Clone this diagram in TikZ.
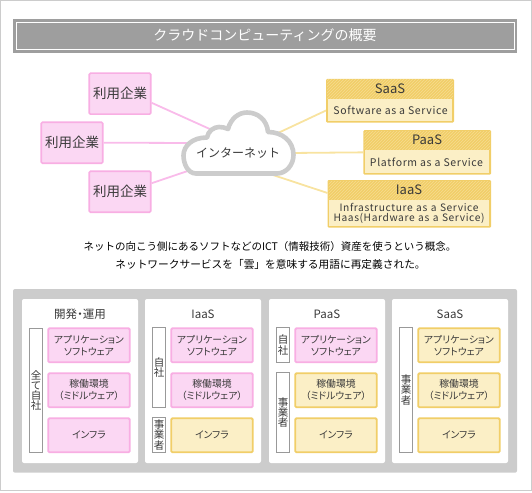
\documentclass[tikz,border=0pt]{standalone}
\usepackage{fontspec}
\usetikzlibrary{patterns}
\setmainfont{Noto Sans CJK JP}
\newfontfamily\cjkhalt[RawFeature=+halt]{Noto Sans CJK JP}
\newfontfamily\cjkprop[RawFeature=+palt]{Noto Sans CJK JP}
\newfontfamily\latinsp[LetterSpace=6]{Noto Sans CJK JP}
\newcommand{\fs}[1]{\fontsize{#1}{#1}\selectfont}
\newcommand{\fsl}[2]{\fontsize{#1}{#2}\selectfont\lineskiplimit=-100pt\relax}
\definecolor{pinkf}{HTML}{FBD7F3}
\definecolor{pinkd}{HTML}{F8AEE3}
\definecolor{pinkl}{HTML}{F9BBEA}
\definecolor{yelf}{HTML}{FBEFC6}
\definecolor{yeld}{HTML}{F1CE68}
\definecolor{yell}{HTML}{F8E3A0}
\definecolor{yelh}{HTML}{F6DC90}
\definecolor{ink}{HTML}{3A3A3A}
\definecolor{panelgray}{HTML}{CCCCCC}
\definecolor{titlegray}{HTML}{9E9E9E}
\tikzset{
  userbox/.style={draw=pinkd,fill=pinkf,line width=1.6pt,rounded corners=1.2pt,minimum width=61.5pt,minimum height=41pt,inner sep=0pt,text=ink,font=\fs{13.5}},
  pinkstack/.style={draw=pinkd,fill=pinkf,line width=1.8pt,rounded corners=1.2pt,minimum width=81.5pt,minimum height=34pt,inner sep=0pt,text=ink,font=\cjkprop\fsl{9.8}{12},align=center},
  yelstack/.style={pinkstack,draw=yeld,fill=yelf},
  bar/.style={draw=gray!80,fill=white,line width=0.9pt,minimum width=12.5pt,inner sep=0pt,text=ink,font=\fsl{10.5}{10.2},align=center},
  whitepanel/.style={fill=white,rounded corners=2pt},
  pinkline/.style={draw=pinkl,line width=1.8pt},
  yelline/.style={draw=yell,line width=1.8pt},
  cardtitle/.style={text=ink,font=\fs{13},inner sep=0pt},
  cardtext/.style={text=ink,font=\latinsp\fs{10.5},inner sep=0pt,align=center},
  paneltitle/.style={text=ink,font=\fs{11.5},inner sep=0pt},
}
\newcommand{\card}[6]{%
  \fill[yeld,rounded corners=1.2pt] (#2,#3) rectangle (#4,#5);
  \fill[pattern=north east lines,pattern color=yelh] (#2+1,#3+1) rectangle (#4-1,#6);
  \fill[yelf] (#2+1.8,#6) rectangle (#4-1.8,#5-1.8);
  \coordinate (#1) at (#2,{(#3+#5)/2});
}
\begin{document}
\begin{tikzpicture}[x=1pt,y=-1pt]
\useasboundingbox (0,0) rectangle (532,492);
\draw[panelgray,line width=1pt] (0.5,0.5) rectangle (531.5,490.5);
% title
\fill[titlegray] (13,19) rectangle (517,53);
\draw[white,line width=0.8pt] (16.5,22.5) rectangle (514,49.5);
\node[text=white,font=\fs{14},inner sep=0pt] (title) at (265,35) {クラウドコンピューティングの概要};
% connector ends on the cloud
\coordinate (ca) at (212,130);
\coordinate (cb) at (195,143);
\coordinate (cc) at (195,168.5);
\coordinate (cd) at (278,133);
\coordinate (ce) at (290,153);
\coordinate (cf) at (270,174);
% users
\node[userbox] (ua) at (120,93.7) {利用企業};
\node[userbox] (ub) at (72,142.7) {利用企業};
\node[userbox] (uc) at (120,191.7) {利用企業};
\draw[pinkline] (ua.-16) -- (ca);
\draw[pinkline] (ub.east) -- (cb);
\draw[pinkline] (uc.15) -- (cc);
% cards
\card{saas}{326}{79}{454}{122.5}{99}
\card{paas}{363.3}{130}{491}{174.7}{149.5}
\card{iaas}{327.5}{180}{491}{227.7}{199.5}
\coordinate (saasin) at (326,110.5);
\coordinate (iaasin) at (327.5,193);
\draw[yelline] (saasin) -- (cd);
\draw[yelline] (paas) -- (ce);
\draw[yelline] (iaasin) -- (cf);
\node[cardtitle] (t1) at (390,89) {SaaS};
\node[cardtext] (d1) at (390.5,110) {Software as a Service};
\node[cardtitle] (t2) at (427,140) {PaaS};
\node[cardtext] (d2) at (426.5,162) {Platform as a Service};
\node[cardtitle] (t3) at (409,190) {IaaS};
\node[cardtext,text width=160pt] (d3) at (409,213.5) {\fsl{10.2}{12}Infrastructure as a Service\\Haas(Hardware as a Service)};
% cloud
\draw[fill=white,draw=panelgray,line width=4.6pt,line join=round]
  (196,173.5) .. controls (188,173.5) and (183.5,164) .. (183.5,155.5)
  .. controls (183.5,146) and (192,137.5) .. (207,137.5)
  .. controls (208,131) and (214,127) .. (219,127)
  .. controls (222,127) and (225,127.5) .. (228,129)
  .. controls (231,118) and (239,112.5) .. (247,112.5)
  .. controls (258,112.5) and (267,120) .. (268,132)
  .. controls (282,132) and (293.5,141) .. (293.5,155)
  .. controls (293.5,165) and (286,173.5) .. (277,173.5) -- cycle;
\node[text=ink,font=\fs{12},inner sep=0pt] (net) at (238,153) {インターネット};
% caption
\node[text=black,font=\fs{10.5},inner sep=0pt] (cap1) at (270,246.5) {ネットの向こう側にあるソフトなどのICT（情報技術）資産を使うという概念。};
\node[text=black,font=\fs{10.7},inner sep=0pt] (cap2) at (270.5,264) {ネットワークサービスを「雲」を意味する用語に再定義された。};
% lower panels
\fill[panelgray,rounded corners=2pt] (13,289) rectangle (517,472.7);
\fill[whitepanel] (22,299) rectangle (138,463);
\fill[whitepanel] (145,299) rectangle (261,463);
\fill[whitepanel] (269,299) rectangle (385,463);
\fill[whitepanel] (392,299) rectangle (508,463);
\node[paneltitle] (h1) at (80,314.5) {開発{\cjkhalt ・}運用};
\node[paneltitle] (h2) at (203,314.5) {IaaS};
\node[paneltitle] (h3) at (327,314.5) {PaaS};
\node[paneltitle] (h4) at (450,314.5) {SaaS};
% column 1
\node[bar,minimum height=124.5pt] (b11) at (36,390.3) {全\\て\\自\\社};
\node[pinkstack] (a1) at (89,345.3) {アプリケーション\\ソフトウェア};
\node[pinkstack] (m1) at (89,390.3) {稼働環境\\（ミドルウェア）};
\node[pinkstack] (i1) at (89,435.3) {インフラ};
% column 2
\node[bar,minimum height=80.5pt] (b21) at (159,367.5) {自\\社};
\node[bar,minimum height=35pt] (b22) at (159,435) {事\\業\\者};
\node[pinkstack] (a2) at (212,345.3) {アプリケーション\\ソフトウェア};
\node[pinkstack] (m2) at (212,390.3) {稼働環境\\（ミドルウェア）};
\node[yelstack] (i2) at (212,435.3) {インフラ};
% column 3
\node[bar,minimum height=35pt] (b31) at (283,345) {自\\社};
\node[bar,minimum height=80.5pt] (b32) at (283,412.5) {事\\業\\者};
\node[pinkstack] (a3) at (336,345.3) {アプリケーション\\ソフトウェア};
\node[yelstack] (m3) at (336,390.3) {稼働環境\\（ミドルウェア）};
\node[yelstack] (i3) at (336,435.3) {インフラ};
% column 4
\node[bar,minimum height=125pt] (b41) at (406,390) {事\\業\\者};
\node[yelstack] (a4) at (459,345.3) {アプリケーション\\ソフトウェア};
\node[yelstack] (m4) at (459,390.3) {稼働環境\\（ミドルウェア）};
\node[yelstack] (i4) at (459,435.3) {インフラ};
\end{tikzpicture}
\end{document}
